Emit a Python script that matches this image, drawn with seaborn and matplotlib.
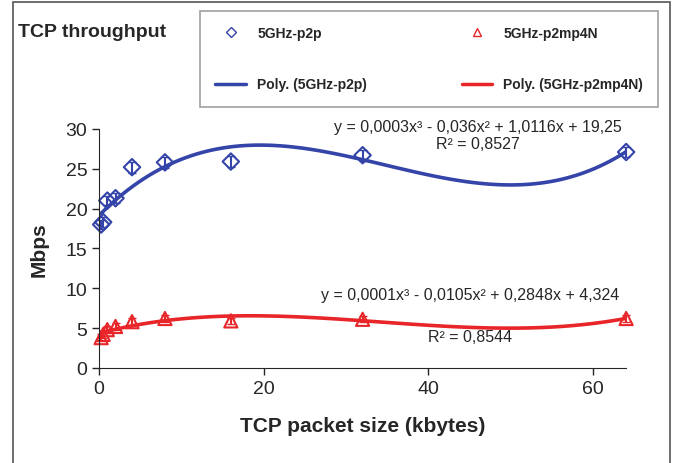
import numpy as np
import pandas as pd
import seaborn as sns
import matplotlib.pyplot as plt
from matplotlib.patches import Rectangle
from matplotlib.lines import Line2D

# values
packet_kb = [0.25, 0.5, 1, 2, 4, 8, 16, 32, 64]
p2p_mbps = [18.0, 18.3, 21.0, 21.3, 25.2, 25.8, 25.9, 26.7, 27.1]
p2mp_mbps = [3.8, 4.2, 4.8, 5.2, 5.8, 6.2, 5.9, 6.1, 6.2]
p2p_err = [0.6, 0.6, 0.6, 0.6, 0.7, 0.7, 0.7, 0.7, 0.6]
p2mp_err = [0.4, 0.4, 0.4, 0.4, 0.4, 0.4, 0.4, 0.4, 0.4]
eq_p2p = "y = 0,0003x³ - 0,036x² + 1,0116x + 19,25"
r2_p2p = "R² = 0,8527"
eq_p2mp = "y = 0,0001x³ - 0,0105x² + 0,2848x + 4,324"
r2_p2mp = "R² = 0,8544"

blue = "#3444a8"
red = "#e8262a"

df = pd.DataFrame({"size": packet_kb, "p2p": p2p_mbps, "p2mp": p2mp_mbps})

sns.set_style("ticks")
plt.rcParams['font.family'] = ['Liberation Sans', 'DejaVu Sans']

fig = plt.figure(figsize=(6.74, 4.64), dpi=100)
ax = fig.add_axes([0.147, 0.205, 0.782, 0.515])

# cubic trend lines
sns.regplot(x="size", y="p2p", data=df, order=3, ci=None, scatter=False,
            line_kws={"color": blue, "lw": 2.6}, ax=ax)
sns.regplot(x="size", y="p2mp", data=df, order=3, ci=None, scatter=False,
            line_kws={"color": red, "lw": 2.6}, ax=ax)

# points with small error bars
ax.errorbar(packet_kb, p2p_mbps, yerr=p2p_err, fmt="none", ecolor=blue,
            elinewidth=1.5, capsize=3, clip_on=False)
ax.errorbar(packet_kb, p2mp_mbps, yerr=p2mp_err, fmt="none", ecolor=red,
            elinewidth=1.5, capsize=3, clip_on=False)
sns.scatterplot(x="size", y="p2p", data=df, marker="D", s=70, facecolor="none",
                edgecolor=blue, linewidth=1.5, clip_on=False, ax=ax)
sns.scatterplot(x="size", y="p2mp", data=df, marker="^", s=90, facecolor="none",
                edgecolor=red, linewidth=1.5, clip_on=False, ax=ax)

ax.set_xlim(0, 64)
ax.set_ylim(0, 30)
ax.set_xticks([0, 20, 40, 60])
ax.set_yticks(range(0, 31, 5))
ax.tick_params(labelsize=14, length=5, width=1)
sns.despine(ax=ax)
ax.set_xlabel("TCP packet size (kbytes)", fontsize=15, fontweight="bold", labelpad=14)
ax.set_ylabel("Mbps", fontsize=15, fontweight="bold", labelpad=12)

ax.text(46, 30.3, eq_p2p, ha="center", va="center", fontsize=11.5)
ax.text(46, 28.2, r2_p2p, ha="center", va="center", fontsize=11.5)
ax.text(45, 9.2, eq_p2mp, ha="center", va="center", fontsize=11.5)
ax.text(45, 3.9, r2_p2mp, ha="center", va="center", fontsize=11.5)

fig.text(0.027, 0.93, "TCP throughput", fontsize=14, fontweight="bold", va="center")

handles = [
    Line2D([], [], ls="none", marker="D", markersize=5, mfc="none", mec=blue),
    Line2D([], [], color=blue, lw=2.5),
    Line2D([], [], ls="none", marker="^", markersize=6, mfc="none", mec=red),
    Line2D([], [], color=red, lw=2.5),
]
labels = ["5GHz-p2p", "Poly. (5GHz-p2p)", "5GHz-p2mp4N", "Poly. (5GHz-p2mp4N)"]
leg = fig.legend(handles, labels, ncol=2, loc="upper left",
                 bbox_to_anchor=(0.297, 0.77, 0.68, 0.205), mode="expand",
                 prop={"size": 10, "weight": "bold"}, fancybox=False,
                 edgecolor="#888888", labelspacing=2.7, handlelength=2.2,
                 borderpad=1.1, borderaxespad=0)
leg.get_frame().set_linewidth(1.2)

# outer frame
fig.patches.append(Rectangle((0.019, -0.01), 0.975, 1.003, transform=fig.transFigure,
                             fill=False, edgecolor="#555555", lw=1.2))

fig.savefig("out.png", dpi=100)
